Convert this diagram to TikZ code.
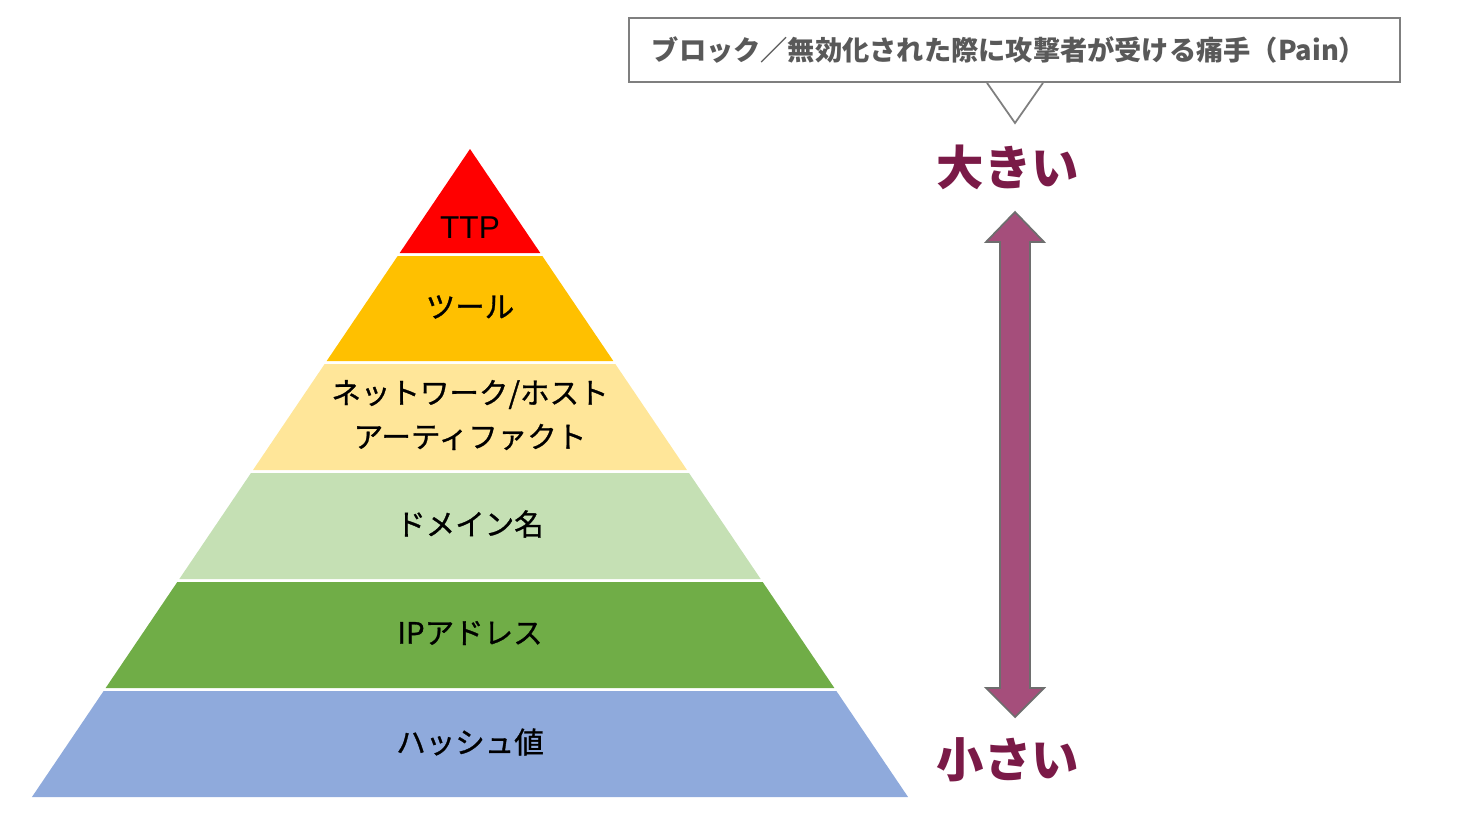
\documentclass[tikz,border=0pt]{standalone}
\usepackage{fontspec}
\setmainfont{Liberation Sans}
\newfontfamily\jpfont{Noto Sans CJK JP}
\newfontfamily\jplabel[FakeBold=1]{Noto Sans CJK JP}
\usetikzlibrary{calc}

\definecolor{ttpred}{HTML}{FF0000}
\definecolor{toolorange}{HTML}{FFC000}
\definecolor{netyellow}{HTML}{FFE699}
\definecolor{domaingreen}{HTML}{C5E0B4}
\definecolor{ipgreen}{HTML}{70AD47}
\definecolor{hashblue}{HTML}{8FAADC}
\definecolor{painred}{HTML}{7A1A47}
\definecolor{arrowmauve}{HTML}{A54E7B}
\definecolor{edgegray}{HTML}{6E6E6E}
\definecolor{calloutgray}{HTML}{7F7F7F}
\definecolor{callouttext}{HTML}{595959}

\tikzset{
  layerlabel/.style={font=\jplabel\fontsize{16.8}{25}\selectfont, align=center, text=black},
  painlabel/.style={font=\jpfont\bfseries\fontsize{27}{30}\selectfont, text=painred},
}

\begin{document}
\begin{tikzpicture}[x=0.02cm, y=-0.02cm]
    \useasboundingbox (0,0) rectangle (1458,832);
    % Pyramid layers, top to bottom
    \foreach \ya/\yb/\col in {149/253/ttpred, 256/361/toolorange, 364/470/netyellow,
                              473/579/domaingreen, 582/688/ipgreen, 691/797/hashblue} {
        \fill[\col] ({470-0.676*(\ya-149)},\ya) -- ({470+0.676*(\ya-149)},\ya)
            -- ({470+0.676*(\yb-149)},\yb) -- ({470-0.676*(\yb-149)},\yb) -- cycle;
    }
    % Layer labels
    \node[font=\fontsize{18}{20}\selectfont] (ttp) at (470,228) {TTP};
    \node[layerlabel] (tool) at (470,307) {ツール};
    \node[layerlabel] (artifact) at (470,415) {ネットワーク/ホスト\\アーティファクト};
    \node[layerlabel] (domain) at (470,524) {ドメイン名};
    \node[layerlabel] (ip) at (470,633) {IPアドレス};
    \node[layerlabel] (hash) at (470,742) {ハッシュ値};

    % Callout
    \node[draw=calloutgray, line width=1pt, fill=white, minimum width=15.42cm, minimum height=1.28cm]
        (pain) at (1014.5,50) {};
    \node[font=\jpfont\bfseries\fontsize{15.5}{18}\selectfont, text=callouttext] (paintext) at (1009,50)
        {ブロック／無効化された際に攻撃者が受ける痛手（Pain）};
    \coordinate (ptip) at (1015,123);
    \filldraw[draw=calloutgray, fill=white, line width=1pt]
        ($(pain.south)+(-27.5,0)$) -- (ptip) -- ($(pain.south)+(28.5,0)$);

    % Scale
    \node[painlabel] (big) at (1008,167) {大きい};
    \node[painlabel] (small) at (1008,760) {小さい};
    \draw[edgegray, fill=arrowmauve, line width=1pt, line join=miter]
        (1015,212) -- (1044,242) -- (1030,242) -- (1030,688) -- (1044,688) -- (1015,717)
        -- (986,688) -- (1000,688) -- (1000,242) -- (986,242) -- cycle;
\end{tikzpicture}
\end{document}
